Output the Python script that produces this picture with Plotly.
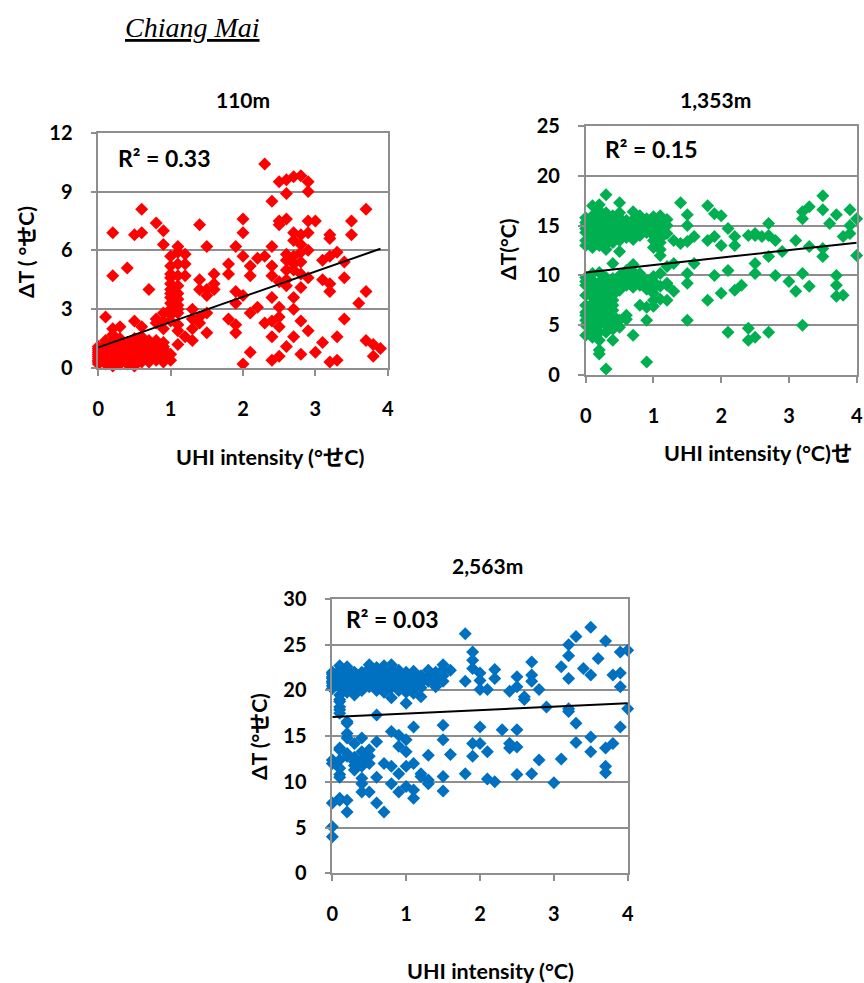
import plotly.graph_objects as go

W, H = 864, 983

# ---- data: (UHI intensity, delta T) pairs per elevation ----
pts_110 = [
    (0.0, 0.3), (0.0, 0.5), (0.0, 0.7), (0.0, 0.9), (0.0, 1.0), (0.0, 0.4), (0.0, 0.6), (0.0, 0.2), (0.0, 0.8), (0.0, 1.1),
    (0.1, 0.2), (0.1, 0.5), (0.1, 0.8), (0.1, 1.2), (0.1, 2.6), (0.1, 0.3), (0.1, 1.0), (0.1, 0.6), (0.1, 0.9), (0.1, 1.4),
    (0.2, 0.1), (0.2, 0.4), (0.2, 0.7), (0.2, 1.0), (0.2, 1.4), (0.2, 2.0), (0.2, 1.7), (0.2, 6.9), (0.2, 4.7),
    (0.2, 0.3), (0.2, 0.6), (0.2, 0.9), (0.2, 1.2),
    (0.3, 0.2), (0.3, 0.6), (0.3, 0.9), (0.3, 1.2), (0.3, 2.1), (0.3, 0.4), (0.3, 0.3), (0.3, 0.7), (0.3, 1.0), (0.3, 1.5),
    (0.4, 0.3), (0.4, 0.6), (0.4, 0.9), (0.4, 1.1), (0.4, 5.1), (0.4, 0.5), (0.4, 0.2), (0.4, 0.8), (0.4, 1.3),
    (0.5, 0.1), (0.5, 0.4), (0.5, 0.8), (0.5, 1.5), (0.5, 2.4), (0.5, 6.8), (0.5, 0.6), (0.5, 1.0),
    (0.5, 0.3), (0.5, 0.7), (0.5, 1.2),
    (0.6, 0.3), (0.6, 0.6), (0.6, 1.0), (0.6, 1.3), (0.6, 2.1), (0.6, 8.1), (0.6, 6.9), (0.6, 0.4), (0.6, 0.8), (0.6, 1.6),
    (0.7, 0.5), (0.7, 0.8), (0.7, 1.1), (0.7, 1.4), (0.7, 4.0), (0.7, 0.3), (0.7, 0.6), (0.7, 1.0), (0.7, 1.2),
    (0.8, 0.6), (0.8, 0.9), (0.8, 1.2), (0.8, 2.3), (0.8, 2.5), (0.8, 7.4), (0.8, 1.0), (0.8, 0.4), (0.8, 0.8), (0.8, 1.4),
    (0.9, 0.3), (0.9, 0.8), (0.9, 1.1), (0.9, 2.0), (0.9, 2.8), (0.9, 7.0), (0.9, 6.3), (0.9, 0.5), (0.9, 1.3),
    (0.9, 0.6), (0.9, 1.0), (0.9, 2.4),
    (1.0, 0.4), (1.0, 0.7), (1.0, 2.7), (1.0, 3.0), (1.0, 3.3), (1.0, 3.6), (1.0, 4.0), (1.0, 4.3),
    (1.0, 4.8), (1.0, 5.2), (1.0, 5.7), (1.0, 2.4), (1.0, 2.9), (1.0, 3.8), (1.0, 4.6),
    (1.1, 6.2), (1.1, 5.9), (1.1, 5.3), (1.1, 4.7), (1.1, 3.5), (1.1, 3.2), (1.1, 1.9), (1.1, 1.2),
    (1.1, 3.0), (1.1, 2.8), (1.1, 3.8), (1.1, 4.2), (1.1, 2.2),
    (1.2, 5.8), (1.2, 5.3), (1.2, 4.7), (1.2, 1.6),
    (1.3, 3.0), (1.3, 1.4), (1.3, 2.5), (1.3, 2.0),
    (1.4, 7.3), (1.4, 4.5), (1.4, 4.0), (1.4, 2.6), (1.4, 2.3),
    (1.5, 6.2), (1.5, 4.0), (1.5, 3.7), (1.5, 2.8), (1.5, 1.8),
    (1.6, 4.8), (1.6, 4.3), (1.6, 4.0),
    (1.8, 5.3), (1.8, 4.8), (1.8, 2.5),
    (1.9, 6.2), (1.9, 2.2), (1.9, 1.8), (1.9, 3.9), (1.9, 3.3),
    (2.0, 7.6), (2.0, 6.9), (2.0, 3.7), (2.0, 5.7), (2.0, 0.2),
    (2.1, 5.2), (2.1, 4.7), (2.1, 2.8), (2.1, 0.8),
    (2.2, 5.6), (2.2, 3.1),
    (2.3, 10.4), (2.3, 5.7), (2.3, 2.3),
    (2.4, 8.5), (2.4, 6.2), (2.4, 5.2), (2.4, 4.7), (2.4, 3.6), (2.4, 1.6), (2.4, 0.4), (2.4, 2.4),
    (2.5, 9.5), (2.5, 7.5), (2.5, 3.1), (2.5, 2.6), (2.5, 2.1), (2.5, 0.6), (2.5, 7.3), (2.5, 4.4),
    (2.6, 9.6), (2.6, 8.9), (2.6, 7.6), (2.6, 5.8), (2.6, 5.5), (2.6, 5.0), (2.6, 4.5), (2.6, 1.1), (2.6, 4.2),
    (2.7, 9.75), (2.7, 6.9), (2.7, 5.7), (2.7, 5.3), (2.7, 3.6), (2.7, 3.0), (2.7, 1.6), (2.7, 6.5), (2.7, 5.0),
    (2.8, 9.8), (2.8, 6.3), (2.8, 5.9), (2.8, 5.4), (2.8, 4.1), (2.8, 2.4), (2.8, 0.7), (2.8, 6.8), (2.8, 4.8),
    (2.9, 9.5), (2.9, 9.0), (2.9, 7.5), (2.9, 6.9), (2.9, 6.0), (2.9, 4.6), (2.9, 1.9),
    (3.0, 7.5), (3.0, 0.8),
    (3.1, 5.5), (3.1, 4.5), (3.1, 1.3),
    (3.2, 6.8), (3.2, 6.6), (3.2, 5.7), (3.2, 4.3), (3.2, 3.9), (3.2, 0.3),
    (3.3, 5.9), (3.3, 1.6), (3.3, 0.4),
    (3.4, 5.4), (3.4, 4.6), (3.4, 2.5),
    (3.5, 7.5), (3.5, 6.8),
    (3.6, 3.3),
    (3.7, 8.1), (3.7, 3.9), (3.7, 1.4),
    (3.8, 1.2), (3.8, 0.6),
    (3.9, 1.0),
]

pts_1353 = [
    (0.0, 13.5), (0.0, 14.3), (0.0, 15.0), (0.0, 15.8), (0.0, 13.0), (0.0, 14.7), (0.0, 15.3),
    (0.0, 4.0), (0.0, 5.5), (0.0, 6.3), (0.0, 7.0), (0.0, 9.0), (0.0, 9.8), (0.0, 5.0), (0.0, 6.0), (0.0, 8.0), (0.0, 9.4),
    (0.1, 12.8), (0.1, 13.7), (0.1, 14.5), (0.1, 15.2), (0.1, 16.0), (0.1, 17.0),
    (0.1, 13.2), (0.1, 14.0), (0.1, 14.9), (0.1, 15.6),
    (0.1, 3.8), (0.1, 4.5), (0.1, 5.8), (0.1, 7.2), (0.1, 8.5), (0.1, 9.5), (0.1, 10.2),
    (0.1, 5.2), (0.1, 6.5), (0.1, 7.8), (0.1, 9.0),
    (0.2, 13.0), (0.2, 14.0), (0.2, 14.8), (0.2, 15.6), (0.2, 16.5), (0.2, 17.1),
    (0.2, 13.5), (0.2, 14.4), (0.2, 15.2), (0.2, 16.0),
    (0.2, 2.1), (0.2, 2.5), (0.2, 3.5), (0.2, 5.0), (0.2, 6.2), (0.2, 7.0), (0.2, 8.3), (0.2, 9.3), (0.2, 10.3),
    (0.2, 4.3), (0.2, 5.6), (0.2, 7.7), (0.2, 8.8),
    (0.3, 12.6), (0.3, 13.6), (0.3, 14.6), (0.3, 15.5), (0.3, 16.3), (0.3, 18.1),
    (0.3, 13.1), (0.3, 14.1), (0.3, 15.0), (0.3, 15.9),
    (0.3, 0.6), (0.3, 4.3), (0.3, 5.8), (0.3, 6.5), (0.3, 7.5), (0.3, 8.8), (0.3, 9.8),
    (0.3, 5.0), (0.3, 6.0), (0.3, 7.0), (0.3, 8.2), (0.3, 9.3),
    (0.4, 13.3), (0.4, 14.2), (0.4, 15.2), (0.4, 16.0), (0.4, 13.8), (0.4, 14.7), (0.4, 15.6),
    (0.4, 3.5), (0.4, 4.6), (0.4, 5.3), (0.4, 6.0), (0.4, 7.0), (0.4, 8.0), (0.4, 9.2), (0.4, 11.2),
    (0.4, 5.7), (0.4, 6.5), (0.4, 7.5), (0.4, 8.5), (0.4, 9.7),
    (0.5, 12.4), (0.5, 14.0), (0.5, 15.0), (0.5, 15.8), (0.5, 17.3), (0.5, 13.5), (0.5, 14.5), (0.5, 16.3),
    (0.5, 4.8), (0.5, 5.5), (0.5, 8.5), (0.5, 9.5), (0.5, 9.0), (0.5, 10.0),
    (0.6, 13.8), (0.6, 14.7), (0.6, 15.5), (0.6, 14.2), (0.6, 15.1),
    (0.6, 5.6), (0.6, 6.0), (0.6, 9.0), (0.6, 9.8), (0.6, 10.5), (0.6, 9.4),
    (0.7, 13.6), (0.7, 14.4), (0.7, 15.1), (0.7, 16.4), (0.7, 14.8), (0.7, 15.6),
    (0.7, 4.0), (0.7, 8.8), (0.7, 9.5), (0.7, 10.4), (0.7, 11.1), (0.7, 9.0), (0.7, 10.0),
    (0.8, 14.0), (0.8, 15.0), (0.8, 16.0), (0.8, 14.5), (0.8, 15.5),
    (0.8, 7.0), (0.8, 9.0), (0.8, 9.8), (0.8, 9.4), (0.8, 10.2),
    (0.9, 14.3), (0.9, 15.2), (0.9, 15.7), (0.9, 14.8),
    (0.9, 1.3), (0.9, 5.5), (0.9, 6.8), (0.9, 8.6), (0.9, 9.5), (0.9, 9.0),
    (1.0, 12.8), (1.0, 13.5), (1.0, 14.3), (1.0, 15.0), (1.0, 15.9), (1.0, 14.0), (1.0, 14.7),
    (1.0, 6.9), (1.0, 7.5), (1.0, 8.7), (1.0, 9.4), (1.0, 9.9), (1.0, 8.2),
    (1.1, 12.0), (1.1, 12.6), (1.1, 13.3), (1.1, 14.0), (1.1, 14.8), (1.1, 15.5), (1.1, 16.0),
    (1.1, 13.7), (1.1, 15.1),
    (1.1, 7.6), (1.1, 8.9), (1.1, 10.2),
    (1.2, 14.2), (1.2, 15.0), (1.2, 15.6), (1.2, 7.5), (1.2, 9.0), (1.2, 9.2), (1.2, 10.9),
    (1.3, 11.2), (1.3, 8.4), (1.3, 13.5),
    (1.4, 17.3), (1.4, 13.2),
    (1.5, 16.1), (1.5, 15.0), (1.5, 13.4), (1.5, 10.2), (1.5, 9.2), (1.5, 5.5),
    (1.6, 13.9), (1.6, 11.2),
    (1.8, 17.0), (1.8, 13.5), (1.8, 7.5),
    (1.9, 16.2), (1.9, 13.9), (1.9, 10.0),
    (2.0, 16.0), (2.0, 13.0), (2.0, 8.2),
    (2.1, 14.7), (2.1, 10.5), (2.1, 4.3),
    (2.2, 13.9), (2.2, 13.0), (2.2, 8.5),
    (2.3, 9.0),
    (2.4, 14.0), (2.4, 4.7), (2.4, 3.5),
    (2.5, 14.0), (2.5, 14.2), (2.5, 11.2), (2.5, 10.2), (2.5, 3.8),
    (2.6, 13.9),
    (2.7, 15.2), (2.7, 14.0), (2.7, 11.9), (2.7, 4.3),
    (2.8, 13.5), (2.8, 10.0),
    (2.9, 12.4),
    (3.0, 9.4),
    (3.1, 13.5), (3.1, 8.4),
    (3.2, 16.4), (3.2, 15.7), (3.2, 10.2), (3.2, 5.0),
    (3.3, 16.9), (3.3, 12.9), (3.3, 8.9),
    (3.5, 18.0), (3.5, 16.6), (3.5, 12.7), (3.5, 11.9),
    (3.6, 15.2),
    (3.7, 16.1), (3.7, 10.0), (3.7, 9.0), (3.7, 7.9),
    (3.8, 13.9), (3.8, 8.0),
    (3.9, 16.6), (3.9, 15.0), (3.9, 14.2),
    (4.0, 15.7), (4.0, 12.0),
]

pts_2563 = [
    (0.0, 20.8), (0.0, 21.3), (0.0, 21.8), (0.0, 21.0), (0.0, 20.5), (0.0, 21.5), (0.0, 22.0), (0.0, 20.2),
    (0.0, 12.4), (0.0, 12.0), (0.0, 7.7), (0.0, 5.1), (0.0, 4.0),
    (0.1, 20.3), (0.1, 21.0), (0.1, 21.6), (0.1, 22.2), (0.1, 22.7), (0.1, 19.5), (0.1, 18.8), (0.1, 18.2), (0.1, 17.9),
    (0.1, 20.7), (0.1, 21.3), (0.1, 21.9), (0.1, 17.5), (0.1, 19.0),
    (0.1, 13.7), (0.1, 13.5), (0.1, 12.4), (0.1, 10.8), (0.1, 10.5), (0.1, 8.2), (0.1, 8.0), (0.1, 11.5),
    (0.2, 19.8), (0.2, 20.6), (0.2, 21.2), (0.2, 21.9), (0.2, 22.3),
    (0.2, 20.2), (0.2, 20.9), (0.2, 21.5), (0.2, 22.6),
    (0.2, 16.6), (0.2, 16.4), (0.2, 15.3), (0.2, 12.8), (0.2, 8.0), (0.2, 6.7), (0.2, 14.8), (0.2, 13.1),
    (0.3, 19.5), (0.3, 20.3), (0.3, 21.0), (0.3, 21.7), (0.3, 19.9), (0.3, 20.6), (0.3, 21.3), (0.3, 22.0),
    (0.3, 14.2), (0.3, 12.2), (0.3, 11.3), (0.3, 11.8), (0.3, 12.7),
    (0.4, 20.0), (0.4, 20.8), (0.4, 21.5), (0.4, 22.0), (0.4, 20.4), (0.4, 21.1), (0.4, 21.8),
    (0.4, 14.8), (0.4, 13.3), (0.4, 11.7), (0.4, 9.8), (0.4, 8.9), (0.4, 10.4), (0.4, 12.3),
    (0.5, 20.4), (0.5, 21.2), (0.5, 22.0), (0.5, 22.8), (0.5, 20.8), (0.5, 21.6), (0.5, 22.4),
    (0.5, 12.8), (0.5, 8.9), (0.5, 12.0), (0.5, 13.5),
    (0.6, 20.0), (0.6, 20.8), (0.6, 21.6), (0.6, 22.5), (0.6, 20.4), (0.6, 21.2), (0.6, 22.0),
    (0.6, 17.3), (0.6, 14.4), (0.6, 10.5), (0.6, 7.7),
    (0.7, 19.8), (0.7, 20.6), (0.7, 21.4), (0.7, 22.2), (0.7, 22.7), (0.7, 20.2), (0.7, 21.0), (0.7, 21.8),
    (0.7, 12.0), (0.7, 6.7),
    (0.8, 19.2), (0.8, 20.3), (0.8, 21.2), (0.8, 22.0), (0.8, 22.8), (0.8, 20.7), (0.8, 21.6), (0.8, 22.4),
    (0.8, 15.5), (0.8, 11.7), (0.8, 9.8),
    (0.9, 20.5), (0.9, 21.3), (0.9, 22.2), (0.9, 20.0), (0.9, 20.9), (0.9, 21.7),
    (0.9, 15.1), (0.9, 13.9), (0.9, 10.9), (0.9, 8.9),
    (1.0, 18.6), (1.0, 19.8), (1.0, 20.6), (1.0, 21.4), (1.0, 22.0), (1.0, 20.2), (1.0, 21.0), (1.0, 21.7),
    (1.0, 14.6), (1.0, 13.3), (1.0, 11.7), (1.0, 9.5),
    (1.1, 19.7), (1.1, 20.4), (1.1, 21.2), (1.1, 22.1), (1.1, 20.8), (1.1, 21.6),
    (1.1, 16.0), (1.1, 12.0), (1.1, 9.1), (1.1, 8.2),
    (1.2, 19.3), (1.2, 20.8), (1.2, 21.6), (1.2, 20.3), (1.2, 21.2), (1.2, 10.9), (1.2, 10.6),
    (1.3, 21.5), (1.3, 22.2), (1.3, 21.0), (1.3, 12.9), (1.3, 10.2), (1.3, 9.8),
    (1.4, 20.4), (1.4, 21.3), (1.4, 22.0), (1.4, 20.8),
    (1.5, 21.0), (1.5, 22.8), (1.5, 21.6), (1.5, 22.3), (1.5, 16.2), (1.5, 14.6), (1.5, 10.6), (1.5, 9.0),
    (1.6, 22.2), (1.6, 13.0),
    (1.8, 26.2), (1.8, 21.0), (1.8, 10.9),
    (1.9, 24.2), (1.9, 23.3), (1.9, 22.4), (1.9, 14.2), (1.9, 12.8),
    (2.0, 21.9), (2.0, 21.1), (2.0, 20.1), (2.0, 16.0), (2.0, 14.2),
    (2.1, 20.1), (2.1, 13.3), (2.1, 10.3),
    (2.2, 22.3), (2.2, 21.3), (2.2, 10.0),
    (2.3, 15.7),
    (2.4, 19.9), (2.4, 14.2), (2.4, 13.7),
    (2.5, 21.5), (2.5, 20.4), (2.5, 15.7), (2.5, 13.8), (2.5, 10.8),
    (2.6, 19.3), (2.6, 19.0),
    (2.7, 23.1), (2.7, 21.7), (2.7, 21.0), (2.7, 10.9),
    (2.8, 20.1), (2.8, 12.4),
    (2.9, 18.2),
    (3.0, 9.9),
    (3.1, 22.6), (3.1, 12.5),
    (3.2, 25.0), (3.2, 23.8), (3.2, 21.3), (3.2, 18.0), (3.2, 17.7),
    (3.3, 25.9), (3.3, 16.4), (3.3, 14.3),
    (3.4, 22.4),
    (3.5, 26.9), (3.5, 21.7), (3.5, 14.9), (3.5, 13.3),
    (3.6, 23.5),
    (3.7, 25.4), (3.7, 13.7), (3.7, 11.7), (3.7, 11.0),
    (3.8, 21.7), (3.8, 14.2),
    (3.9, 24.2), (3.9, 21.9), (3.9, 20.4), (3.9, 16.0),
    (4.0, 24.4), (4.0, 18.0),
]

# linear trend (intercept, slope) and coefficient of determination per panel
fit_110 = (1.05, 1.29)
fit_1353 = (10.3, 0.745)
fit_2563 = (17.1, 0.375)
r2_labels = ["R² = 0.33", "R² = 0.15", "R² = 0.03"]
panel_titles = ["110m", "1,353m", "2,563m"]
x_titles = ["UHI intensity (°せC)", "UHI intensity (°C)せ", "UHI intensity (°C)"]
y_titles = ["ΔT ( °せC)", "ΔT(°C)", "ΔT (°せC)"]
y_ranges = [(0, 12, 3), (0, 25, 5), (0, 30, 5)]
x_ticks = [0, 1, 2, 3, 4]
colors = ["#FF0000", "#00B050", "#0070C0"]
trend_xmax = [3.9, 4.0, 4.0]

# ---- layout geometry (pixels) ----
# plot-area boxes: left, right, top, bottom
boxes = [(98.3, 387.7, 132.7, 368.0),
         (585.7, 856.7, 126.0, 375.0),
         (332.3, 627.7, 599.0, 873.3)]
title_pos = [(243, 100), (715, 100), (487, 565)]
xtitle_pos = [(270, 457), (758, 453), (490, 971)]
ytitle_pos = [(25, 252), (507, 250), (258, 737)]
r2_pos = [(116, 158), (603, 149), (344, 619)]

FONT = "Lato, 'Noto Sans CJK JP', sans-serif"
GRID = "#8e8e8e"


def fx(px):
    return px / W


def fy(py):
    return 1 - py / H


fig = go.Figure()
series = [pts_110, pts_1353, pts_2563]
fits = [fit_110, fit_1353, fit_2563]

for i in range(3):
    ax = "" if i == 0 else str(i + 1)
    xs = [p[0] for p in series[i]]
    ys = [p[1] for p in series[i]]
    fig.add_trace(go.Scatter(
        x=xs, y=ys, mode="markers", xaxis="x" + ax, yaxis="y" + ax,
        marker=dict(symbol="diamond", size=10, color=colors[i], line=dict(width=0)),
        cliponaxis=False, showlegend=False, hoverinfo="x+y",
    ))
    b0, b1 = fits[i]
    tx = [0, trend_xmax[i]]
    fig.add_trace(go.Scatter(
        x=tx, y=[b0 + b1 * v for v in tx], mode="lines", xaxis="x" + ax, yaxis="y" + ax,
        line=dict(color="black", width=2), showlegend=False, hoverinfo="skip",
    ))

    l, r, t, bt = boxes[i]
    y0, y1, dy = y_ranges[i]
    fig.layout["xaxis" + ax] = dict(
        domain=[fx(l), fx(r)], range=[0, 4], anchor="y" + ax, automargin=False,
        tickvals=x_ticks, showgrid=False, zeroline=False,
        showline=True, mirror=True, linecolor=GRID, linewidth=1.5,
        ticks="outside", ticklen=6, tickcolor=GRID, tickwidth=1.5,
        ticklabelstandoff=16,
        tickfont=dict(family=FONT, size=20, color="black", weight="bold"),
    )
    fig.layout["yaxis" + ax] = dict(
        domain=[fy(bt), fy(t)], range=[y0, y1], anchor="x" + ax, automargin=False,
        tick0=0, dtick=dy, showgrid=True, gridcolor=GRID, gridwidth=1.5,
        zeroline=False, showline=True, mirror=True, linecolor=GRID, linewidth=1.5,
        ticks="outside", ticklen=6, tickcolor=GRID, tickwidth=1.5,
        ticklabelstandoff=14,
        tickfont=dict(family=FONT, size=20, color="black", weight="bold"),
    )

annotations = []
for i in range(3):
    annotations.append(dict(
        text=panel_titles[i], x=fx(title_pos[i][0]), y=fy(title_pos[i][1]),
        xref="paper", yref="paper", showarrow=False, xanchor="center", yanchor="middle",
        font=dict(family=FONT, size=21, color="black", weight="bold"),
    ))
    annotations.append(dict(
        text=x_titles[i], x=fx(xtitle_pos[i][0]), y=fy(xtitle_pos[i][1]),
        xref="paper", yref="paper", showarrow=False, xanchor="center", yanchor="middle",
        font=dict(family=FONT, size=21.5, color="black", weight="bold"),
    ))
    annotations.append(dict(
        text=y_titles[i], x=fx(ytitle_pos[i][0]), y=fy(ytitle_pos[i][1]),
        xref="paper", yref="paper", showarrow=False, xanchor="center", yanchor="middle",
        textangle=-90,
        font=dict(family=FONT, size=21, color="black", weight="bold"),
    ))
    annotations.append(dict(
        text=r2_labels[i], x=fx(r2_pos[i][0]), y=fy(r2_pos[i][1]),
        xref="paper", yref="paper", showarrow=False, xanchor="left", yanchor="middle",
        font=dict(family=FONT, size=23, color="black", weight="bold"),
    ))

annotations.append(dict(
    text="<u>Chiang Mai</u>", x=fx(123), y=fy(27), xref="paper", yref="paper",
    showarrow=False, xanchor="left", yanchor="middle",
    font=dict(family="Liberation Serif, serif", size=28, color="black", style="italic"),
))

fig.update_layout(
    width=W, height=H, margin=dict(l=0, r=0, t=0, b=0, autoexpand=False),
    paper_bgcolor="white", plot_bgcolor="white",
    annotations=annotations, showlegend=False,
)

fig.write_html("out.html")
